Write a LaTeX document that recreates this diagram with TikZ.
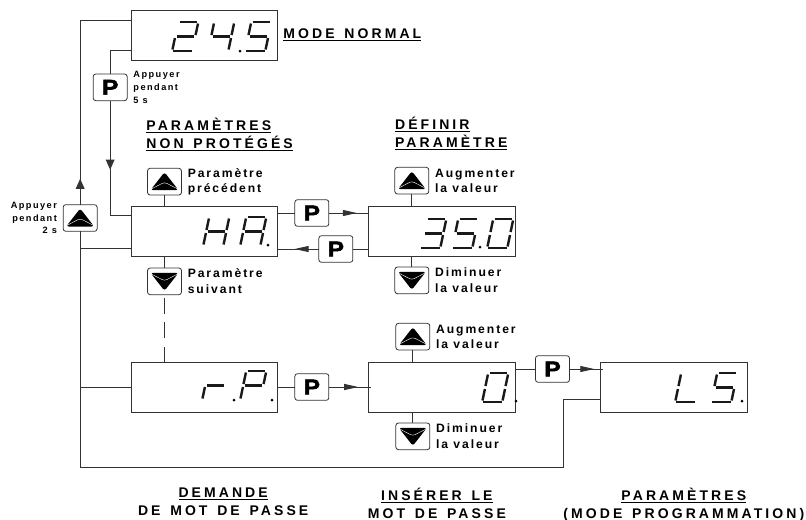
\documentclass[tikz,border=0pt]{standalone}
\usepackage{fontspec}
\usepackage{xcolor}
\usepackage{tikz}
\usetikzlibrary{positioning,arrows.meta,decorations.markings}

\setmainfont{Liberation Sans}
\newfontfamily\headfont{Liberation Sans}[LetterSpace=22,WordSpace=1.4]
\newfontfamily\notefont{Liberation Sans}[LetterSpace=16]
\newfontfamily\keyfont{Liberation Sans}[BoldFeatures={FakeBold=2.5,FakeStretch=1.15}]

% Seven segment display, drawn from one digit outline
\def\sega{(7.5,-29) -- (25,-29)}
\def\segb{(26,-27.5) -- (23.6,-16)}
\def\segc{(23,-13) -- (20.6,-1.5)}
\def\segd{(1,0) -- (19.5,0)}
\def\sege{(0.5,-1.5) -- (2.9,-13)}
\def\segf{(3.5,-16) -- (5.9,-27.5)}
\def\segg{(4.5,-14.5) -- (22,-14.5)}
\newcommand{\segdigit}[3]{%
  \begin{scope}[shift={(#1,#2)}]
    \foreach \s in {#3} {\draw[segment] \csname seg\s\endcsname;}
  \end{scope}}
\newcommand{\segdot}[2]{\fill (#1,#2) circle (1.5);}

\begin{document}
\begin{tikzpicture}[
    x=0.75pt, y=-0.75pt,
    display/.style={draw=black!80, fill=white, rectangle, line width=0.7pt,
                    minimum width=110pt, minimum height=37.5pt, outer sep=0pt},
    keybox/.style={draw=black!80, fill=white, rectangle, rounded corners=2pt, line width=0.6pt,
                   minimum width=25.5pt, minimum height=20pt, inner sep=0pt, outer sep=0pt},
    pkey/.style={keybox, font=\keyfont\bfseries\fontsize{16}{16}\selectfont},
    upkey/.style={keybox, path picture={
        \begin{scope}[shift={(path picture bounding box.center)}]
          \fill[black] (0,-9.5) -- (14,8.5) -- (-14,8.5) -- cycle;
          \draw[white, line width=0.3pt] (-12.5,7) -- (0,0.5) -- (12.5,7);
        \end{scope}}},
    downkey/.style={keybox, path picture={
        \begin{scope}[shift={(path picture bounding box.center)}]
          \fill[black] (0,9.5) -- (14,-8.5) -- (-14,-8.5) -- cycle;
          \draw[white, line width=0.3pt] (-12.5,-7) -- (0,-0.5) -- (12.5,-7);
        \end{scope}}},
    note/.style={font=\notefont\bfseries\fontsize{9.1}{11.6}\selectfont, align=left, inner sep=0pt},
    smallnote/.style={font=\notefont\bfseries\fontsize{6.9}{9.6}\selectfont, align=left, inner sep=0pt},
    heading/.style={font=\headfont\bfseries\fontsize{10.5}{13.5}\selectfont, align=left, inner sep=0pt},
    caption/.style={heading, align=center},
    segment/.style={line width=1.8pt, black!90},
    conn/.style={draw=black!80, line width=0.7pt},
    flow/.style={conn, decoration={markings,
        mark=at position #1 with {\arrow{Triangle[length=10.5pt,width=4.5pt]}}}, postaction={decorate}},
    vflow/.style={conn, decoration={markings,
        mark=at position #1 with {\arrow{Triangle[length=7.5pt,width=6.5pt]}}}, postaction={decorate}}
]
\useasboundingbox (0,0) rectangle (806,519);

% Displays
\node[display] (boxnormal) at (204.5,35) {};
\node[display, below=109.5pt of boxnormal] (boxha) {};
\node[display, right=68.25pt of boxha] (boxdef) {};
\node[display, below=79.5pt of boxha] (boxrp) {};
\node[display, right=68.25pt of boxrp] (boxzero) {};
\node[display, right=63.75pt of boxzero] (boxls) {};

% Keys
\node[pkey, below left=10.5pt and 3pt of boxnormal.south west] (keyfive) {P};
\node[upkey, left=25.5pt of boxha, yshift=9.75pt] (keyup) {};
\node[upkey, above=8.25pt of boxha.north west, xshift=25pt] (keyprev) {};
\node[downkey, below=9pt of boxha.south west, xshift=25pt] (keynext) {};
\node[pkey, right=12.75pt of boxha, yshift=13.5pt] (keyenter) {P};
\node[pkey, left=12pt of boxdef, yshift=-13.5pt] (keyback) {P};
\node[upkey, above=9pt of boxdef.north west, xshift=32.25pt] (keyinc) {};
\node[downkey, below=8.25pt of boxdef.south west, xshift=32.25pt] (keydec) {};
\node[pkey, right=12.75pt of boxrp] (keyrp) {P};
\node[upkey, above=9pt of boxzero.north west, xshift=33pt] (keyincz) {};
\node[downkey, below=8.25pt of boxzero.south west, xshift=33pt] (keydecz) {};
\node[pkey, right=15pt of boxzero, yshift=13.5pt] (keyls) {P};

% Digits
\segdigit{172}{51}{a,b,g,e,d}
\segdigit{208}{51}{f,g,b,c}
\segdot{240}{51}
\segdigit{245}{51}{a,f,g,c,d}
\segdigit{203}{246}{f,e,g,b,c}
\segdigit{240}{246}{a,b,c,e,f,g}
\segdot{268}{245}
\segdigit{420}{248}{a,b,g,c,d}
\segdigit{452}{248}{a,f,g,c,d}
\segdot{480}{247}
\segdigit{487}{248}{a,b,c,d,e,f}
\segdigit{202}{400}{e,g}
\segdot{234}{400}
\segdigit{240}{400}{a,b,f,g,e}
\segdot{272}{400}
\segdigit{482}{402}{a,b,c,d,e,f}
\segdot{516}{401}
\segdigit{675}{402}{f,e,d}
\segdigit{711}{402}{a,f,g,c,d}
\segdot{742}{401}

% Labels
\node[heading, right=4pt of boxnormal] (normal) {\underline{MODE NORMAL}};
\node[heading, above right=12.5pt and -1pt of keyprev.north west] (unprot)
  {\underline{PARAMÈTRES}\\\underline{NON PROTÉGÉS}};
\node[heading, above right=12.5pt and 0pt of keyinc.north west] (setpar)
  {\underline{DÉFINIR}\\\underline{PARAMÈTRE}};
\node[smallnote, right=4.5pt of keyfive] (hold5) {Appuyer\\pendant\\5 s};
\node[smallnote, align=right, left=4.5pt of keyup] (hold2) {Appuyer\\pendant\\2 s};
\node[note, right=4.5pt of keyprev] (prev) {Paramètre\\précédent};
\node[note, right=4.5pt of keynext] (next) {Paramètre\\suivant};
\node[note, right=4.5pt of keyinc] (inc) {Augmenter\\la valeur};
\node[note, right=4.5pt of keydec] (dec) {Diminuer\\la valeur};
\node[note, right=4.5pt of keyincz] (incz) {Augmenter\\la valeur};
\node[note, right=4.5pt of keydecz] (decz) {Diminuer\\la valeur};
\node[caption, below=56.5pt of boxrp, xshift=14pt] (capask) {\underline{DEMANDE}\\DE MOT DE PASSE};
\node[caption, below=56.5pt of boxzero, xshift=-4pt] (capins) {\underline{INSÉRER LE}\\MOT DE PASSE};
\node[caption, below=56.5pt of boxls, xshift=7.5pt] (capprog) {\underline{PARAMÈTRES}\\(MODE PROGRAMMATION)};

% Left rail back to normal mode
\coordinate (railfoot) at (563,467);
\coordinate (hafoot) at ([yshift=-12.75pt]boxha.west);
\draw[vflow=0.11] (keyup.north) |- ([yshift=-7.5pt]boxnormal.north west);
\draw[conn] (keyup.south) |- (railfoot) |- ([yshift=-9pt]boxls.west);
\draw[conn] (hafoot) -- (keyup.south |- hafoot);
\draw[conn] (boxrp.west) -- (keyup.south |- boxrp.west);

% Entry into the parameters
\draw[conn] ([yshift=7.5pt]boxnormal.south west) -| (keyfive.north);
\draw[vflow=0.51] (keyfive.south) |- ([yshift=12pt]boxha.west);

% Keys on the displays
\draw[conn] (keyprev.south) -- (keyprev.south |- boxha.north);
\draw[conn, dash pattern=on 12pt off 6.5pt] ([yshift=-2.25pt]keynext.south) -- (keynext.south |- boxrp.north);
\draw[conn] (keyinc.south) -- (keyinc.south |- boxdef.north);
\draw[conn] (keydec.north) -- (keydec.north |- boxdef.south);
\draw[conn] (keyincz.south) -- (keyincz.south |- boxzero.north);
\draw[conn] (keydecz.north) -- (keydecz.north |- boxzero.south);
\draw[conn] (keynext.north) -- (keynext.north |- boxha.south);

% P steps
\draw[conn] (boxha.east |- keyenter.west) -- (keyenter.west);
\draw[flow=0.7] (keyenter.east) -- (boxdef.west |- keyenter.east);
\draw[conn] (boxdef.west |- keyback.east) -- (keyback.east);
\draw[flow=0.59] (keyback.west) -- (boxha.east |- keyback.west);
\draw[conn] (boxrp.east) -- (keyrp.west);
\draw[flow=0.7] (keyrp.east) -- ([xshift=1.5pt]boxzero.west);
\draw[conn] (boxzero.east |- keyls.west) -- (keyls.west);
\draw[flow=0.75] (keyls.east) -- ([xshift=1.5pt]boxls.west |- keyls.east);

\end{tikzpicture}
\end{document}
